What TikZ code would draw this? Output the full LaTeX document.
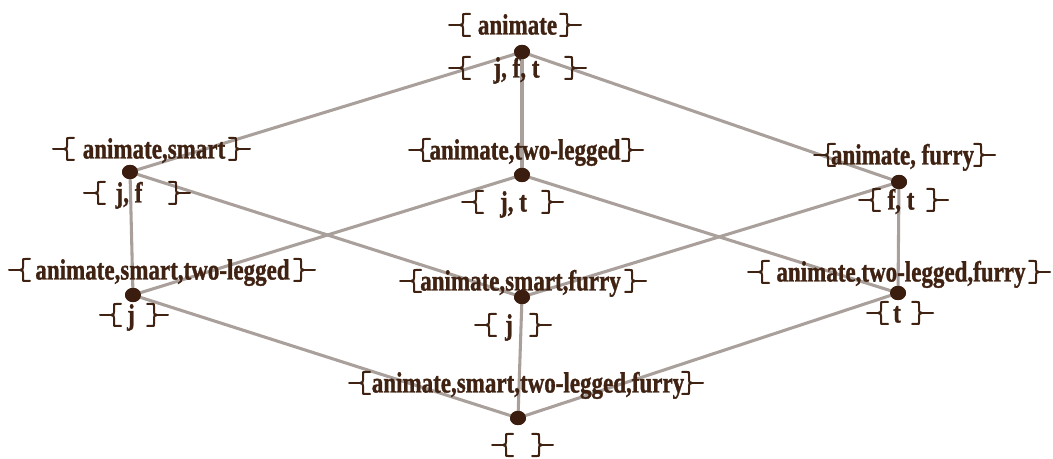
\documentclass[tikz,border=0pt]{standalone}
\usepackage{fontspec}
\setmainfont{Liberation Serif}
\newfontfamily\lblfont[BoldFeatures={FakeBold=1.3}]{Liberation Serif}
\usepackage{graphicx}
\usetikzlibrary{shapes.geometric}
\definecolor{linegray}{HTML}{A9A09B}
\definecolor{dotbrown}{HTML}{3A1D0E}
\definecolor{txtbrown}{HTML}{3F2212}
\newcommand\tallt[1]{\scalebox{1}[1.27]{#1}}
\begin{document}
\begin{tikzpicture}[x=0.75pt,y=-0.75pt,
  edge/.style={draw=linegray, line width=2.3pt},
  dot/.style={ellipse, fill=dotbrown, inner sep=0pt, minimum width=12pt, minimum height=10.5pt},
  lbl/.style={anchor=base, inner sep=0pt, text=txtbrown, font=\lblfont\bfseries\fontsize{17.25}{20}\selectfont},
  brk/.style={draw=txtbrown, line width=1.5pt, line cap=round},
  lbrk/.pic={\draw[brk] (8,-11) -- (3,-11) .. controls (1,-11) .. (1,-9) -- (1,-3) .. controls (1,-1) .. (-2,0) .. controls (1,1) .. (1,3) -- (1,9) .. controls (1,11) .. (3,11) -- (8,11);
             \draw[brk] (-2,0) -- (-13,0);},
  rbrk/.pic={\draw[brk] (-8,-11) -- (-3,-11) .. controls (-1,-11) .. (-1,-9) -- (-1,-3) .. controls (-1,-1) .. (2,0) .. controls (-1,1) .. (-1,3) -- (-1,9) .. controls (-1,11) .. (-3,11) -- (-8,11);
             \draw[brk] (2,0) -- (13,0);}
]
\useasboundingbox (0,0) rectangle (1053,459);

% concept dots
\node[dot] (top) at (522,52) {};
\node[dot] (S)   at (130,172) {};
\node[dot] (T)   at (522,175) {};
\node[dot] (F)   at (899,182) {};
\node[dot] (ST)  at (133,295) {};
\node[dot] (SF)  at (522,297) {};
\node[dot] (TF)  at (898,293) {};
\node[dot] (bot) at (518,418) {};

% edges
\draw[edge] (top.center) -- (S.center);
\draw[edge] (top.center) -- (T.center);
\draw[edge] (top.center) -- (F.center);
\draw[edge] (S.center) -- (ST.center);
\draw[edge] (S.center) -- (SF.center);
\draw[edge] (T.center) -- (ST.center);
\draw[edge] (T.center) -- (TF.center);
\draw[edge] (F.center) -- (SF.center);
\draw[edge] (F.center) -- (TF.center);
\draw[edge] (ST.center) -- (bot.center);
\draw[edge] (SF.center) -- (bot.center);
\draw[edge] (TF.center) -- (bot.center);

% dots on top of the edges
\foreach \n in {top,S,T,F,ST,SF,TF,bot} \fill[dotbrown] (\n) ellipse (8 and 7.2);

% labels: intents (above) and extents (below)
\node[lbl] (i1) at (517.5,34.5) {\tallt{animate}};
\pic at (462,25) {lbrk}; \pic at (568,25) {rbrk};
\node[lbl] (e1) at (516.5,77.5) {\tallt{j, f, t}};
\pic at (462,68) {lbrk}; \pic at (573,68) {rbrk};

\node[lbl] (i2) at (154,158.5) {\tallt{animate,smart}};
\pic at (66,149) {lbrk}; \pic at (237,149) {rbrk};
\node[lbl] (e2) at (129,202.5) {\tallt{j, f}};
\pic at (97,193) {lbrk}; \pic at (177,193) {rbrk};

\node[lbl] (i3) at (525,159.5) {\tallt{animate,two-legged}};
\pic at (422,150) {lbrk}; \pic at (630,150) {rbrk};
\node[lbl] (e3) at (513.5,211.5) {\tallt{j, t}};
\pic at (475,202) {lbrk}; \pic at (550,202) {rbrk};

\node[lbl] (i4) at (902.5,164.5) {\tallt{animate, furry}};
\pic at (827,155) {lbrk}; \pic at (982,155) {rbrk};
\node[lbl] (e4) at (901,209.5) {\tallt{f, t}};
\pic at (872,200) {lbrk}; \pic at (935,200) {rbrk};

\node[lbl] (i5) at (162.5,279.5) {\tallt{animate,smart,two-legged}};
\pic at (22,270) {lbrk}; \pic at (302,270) {rbrk};
\node[lbl] (e5) at (131,324.5) {\tallt{j}};
\pic at (113,315) {lbrk}; \pic at (155,315) {rbrk};

\node[lbl] (i6) at (520.5,290.5) {\tallt{animate,smart,furry}};
\pic at (413,281) {lbrk}; \pic at (633,281) {rbrk};
\node[lbl] (e6) at (509,334.5) {\tallt{j}};
\pic at (488,325) {lbrk}; \pic at (538,325) {rbrk};

\node[lbl] (i7) at (901,281.5) {\tallt{animate,two-legged,furry}};
\pic at (761,272) {lbrk}; \pic at (1037,272) {rbrk};
\node[lbl] (e7) at (897,322.5) {\tallt{t}};
\pic at (880,313) {lbrk}; \pic at (920,313) {rbrk};

\node[lbl] (i8) at (528,392.5) {\tallt{animate,smart,two-legged,furry}};
\pic at (362,383) {lbrk}; \pic at (690,383) {rbrk};
\pic at (505,445) {lbrk}; \pic at (540,445) {rbrk};
\end{tikzpicture}
\end{document}
